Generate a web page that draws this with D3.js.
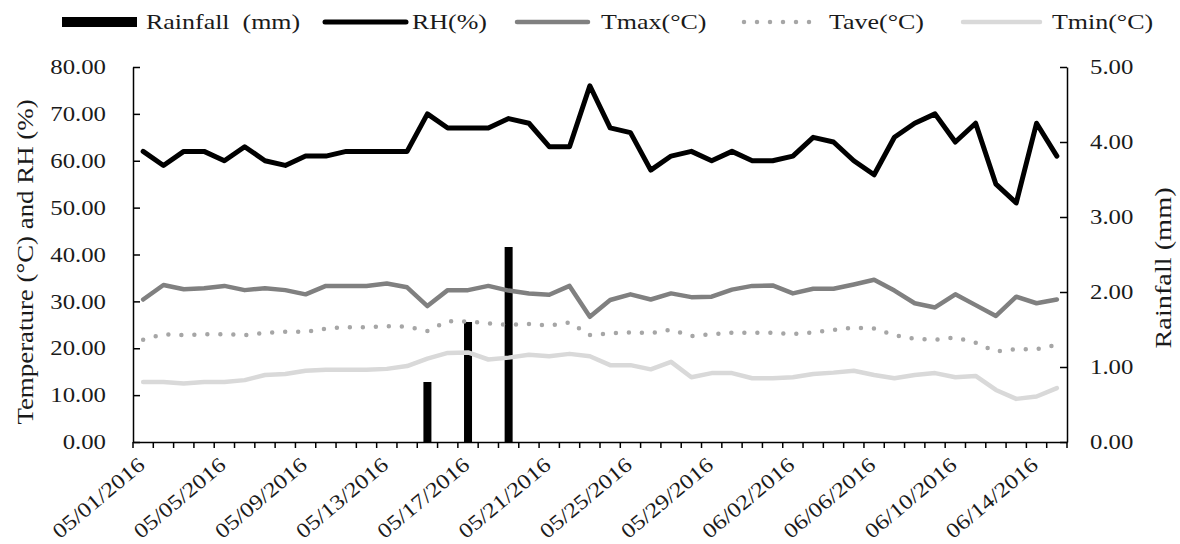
<!DOCTYPE html>
<html>
<head>
<meta charset="utf-8">
<script src="https://cdn.jsdelivr.net/npm/d3@7"></script>
<style>
  body { margin: 0; background: #fff; }
  svg { display: block; }
  text { font-family: "Liberation Serif", "Times New Roman", serif; fill: #1a1a1a; }
</style>
</head>
<body>
<svg width="1180" height="544"></svg>
<script>
// daily dates 05/01/2016 .. 06/15/2016
const dates = d3.timeDay.range(new Date(2016, 4, 1), new Date(2016, 5, 16)).map(d3.timeFormat('%m/%d/%Y'));

const rainfall = [0,0,0,0,0,0,0,0,0,0,0,0,0,0,0.8,0,1.6,0,2.6,0,0,0,0,0,0,0,0,0,0,0,0,0,0,0,0,0,0,0,0,0,0,0,0,0,0,0];
const rh = [62,59,62,62,60,63,60,59,61,61,62,62,62,62,70,67,67,67,69,68,63,63,76,67,66,58,61,62,60,62,60,60,61,65,64,60,57,65,68,70,64,68,55,51,68,61];
const tmax = [30.4,33.5,32.6,32.8,33.3,32.4,32.8,32.4,31.5,33.3,33.3,33.3,33.8,33,29,32.4,32.4,33.3,32.3,31.7,31.4,33.3,26.7,30.3,31.5,30.4,31.7,30.9,31,32.5,33.3,33.4,31.7,32.7,32.7,33.6,34.6,32.3,29.6,28.7,31.5,29.2,26.9,31,29.6,30.4];
const tave = [21.8,23,22.8,23,23,22.8,23.3,23.5,23.5,24.2,24.5,24.5,24.7,24.6,23.7,25.8,25.7,25.3,25,25.2,24.8,25.5,22.8,23.2,23.4,23.2,24,22.6,23,23.3,23.3,23.3,23,23.4,23.9,24.4,24.2,22.8,22,21.8,22.3,21.2,19.3,19.8,19.8,20.7];
const tmin = [12.8,12.8,12.5,12.8,12.8,13.2,14.3,14.5,15.2,15.4,15.4,15.4,15.6,16.2,17.8,19,19.1,17.6,18,18.6,18.3,18.8,18.3,16.4,16.4,15.5,17.1,13.8,14.7,14.7,13.6,13.6,13.8,14.5,14.8,15.2,14.3,13.6,14.3,14.7,13.8,14.1,11.1,9.2,9.7,11.5];

const leftTicks = [0,10,20,30,40,50,60,70,80];
const rightTicks = [0,1,2,3,4,5];

const svg = d3.select('svg');
const plotL = 133, plotR = 1067, plotT = 67, plotB = 442;
const stretch = 1.18; // text in the original is wider than plain Times

const x = d3.scaleBand().domain(dates).range([plotL, plotR]).padding(0);
const yL = d3.scaleLinear().domain([0, 80]).range([plotB, plotT]);
const yR = d3.scaleLinear().domain([0, 5]).range([plotB, plotT]);
const cx = d => x(d) + x.bandwidth() / 2;

// rainfall bars
const barW = 8;
svg.append('g').selectAll('rect')
  .data(dates.map((d, i) => ({ d, v: rainfall[i] })).filter(r => r.v > 0))
  .enter().append('rect')
  .attr('x', r => cx(r.d) - barW / 2)
  .attr('y', r => yR(r.v))
  .attr('width', barW)
  .attr('height', r => yR(0) - yR(r.v))
  .attr('fill', '#000');

const series = [
  { name: 'Tmin(°C)', values: tmin, color: '#d9d9d9', width: 4.5, dash: null },
  { name: 'Tave(°C)', values: tave, color: '#a6a6a6', width: 4.5, dash: '0 13' },
  { name: 'Tmax(°C)', values: tmax, color: '#808080', width: 4.5, dash: null },
  { name: 'RH(%)', values: rh, color: '#000', width: 5, dash: null }
];

const line = d3.line().x((v, i) => cx(dates[i])).y(v => yL(v));
series.forEach(s => {
  svg.append('path')
    .datum(s.values)
    .attr('d', line)
    .attr('fill', 'none')
    .attr('stroke', s.color)
    .attr('stroke-width', s.width)
    .attr('stroke-linejoin', 'round')
    .attr('stroke-linecap', 'round')
    .attr('stroke-dasharray', s.dash);
});

// left axis
const gL = svg.append('g').attr('transform', `translate(${plotL},0)`)
  .call(d3.axisLeft(yL).tickValues(leftTicks).tickFormat(d3.format('.2f')).tickSizeInner(-7).tickSizeOuter(0));
gL.selectAll('.tick text').attr('x', 0).attr('transform', `translate(-27,0) scale(${stretch},1)`);
// right axis
const gR = svg.append('g').attr('transform', `translate(${plotR},0)`)
  .call(d3.axisRight(yR).tickValues(rightTicks).tickFormat(d3.format('.2f')).tickSizeInner(-7).tickSizeOuter(0));
gR.selectAll('.tick text').attr('x', 0).attr('transform', `translate(23,0) scale(${stretch},1)`);
[gL, gR].forEach(g => {
  g.select('.domain').attr('stroke', '#000').attr('stroke-width', 1.5);
  g.selectAll('.tick line').attr('stroke', '#000').attr('stroke-width', 1.5);
  g.selectAll('.tick text').style('font-size', '21px').attr('fill', '#1a1a1a')
    .style('font-family', '"Liberation Serif", serif');
});

// x axis
const gX = svg.append('g').attr('transform', `translate(0,${plotB})`)
  .call(d3.axisBottom(x).tickSize(0).tickFormat((d, i) => i % 4 === 0 ? d : ''));
gX.select('.domain').attr('stroke', '#000').attr('stroke-width', 1.5);
gX.selectAll('.tick text')
  .style('font-size', '21px')
  .style('font-family', '"Liberation Serif", serif')
  .attr('fill', '#1a1a1a')
  .attr('text-anchor', 'end')
  .attr('y', 0)
  .attr('dy', '0')
  .attr('transform', `translate(3,25) rotate(-40) scale(${stretch},1)`);
gX.selectAll('line.cat')
  .data(dates.concat(['end']))
  .enter().append('line')
  .attr('class', 'cat')
  .attr('x1', d => d === 'end' ? x.range()[1] : x(d))
  .attr('x2', d => d === 'end' ? x.range()[1] : x(d))
  .attr('y1', 0).attr('y2', 6)
  .attr('stroke', '#000').attr('stroke-width', 1.5);

// axis titles
svg.append('text')
  .attr('transform', `translate(33,262) rotate(-90) scale(1.12,1)`)
  .attr('text-anchor', 'middle')
  .style('font-size', '24px')
  .text('Temperature (°C) and RH (%)');
svg.append('text')
  .attr('transform', `translate(1171,268) rotate(-90) scale(${stretch},1)`)
  .attr('text-anchor', 'middle')
  .style('font-size', '24px')
  .text('Rainfall (mm)');

// legend
const legY = 22;
const leg = svg.append('g');
leg.append('rect').attr('x', 62).attr('y', legY - 5).attr('width', 75).attr('height', 10).attr('fill', '#000');
leg.append('text').attr('transform', `translate(146,${legY + 7}) scale(${stretch},1)`)
  .style('font-size', '22px').style('white-space', 'pre').text('Rainfall  (mm)');
const legItems = [
  { s: series[3], x1: 325, x2: 406, tx: 412 },
  { s: series[2], x1: 517, x2: 588, tx: 601 },
  { s: series[1], x1: 744, x2: 819, tx: 829 },
  { s: series[0], x1: 963, x2: 1040, tx: 1052 }
];
legItems.forEach(it => {
  leg.append('line')
    .attr('x1', it.x1).attr('x2', it.x2).attr('y1', legY).attr('y2', legY)
    .attr('stroke', it.s.color).attr('stroke-width', it.s.width)
    .attr('stroke-linecap', 'round')
    .attr('stroke-dasharray', it.s.dash ? '0 13' : null);
  leg.append('text').attr('transform', `translate(${it.tx},${legY + 7}) scale(${stretch},1)`)
    .style('font-size', '22px').text(it.s.name);
});
</script>
</body>
</html>
